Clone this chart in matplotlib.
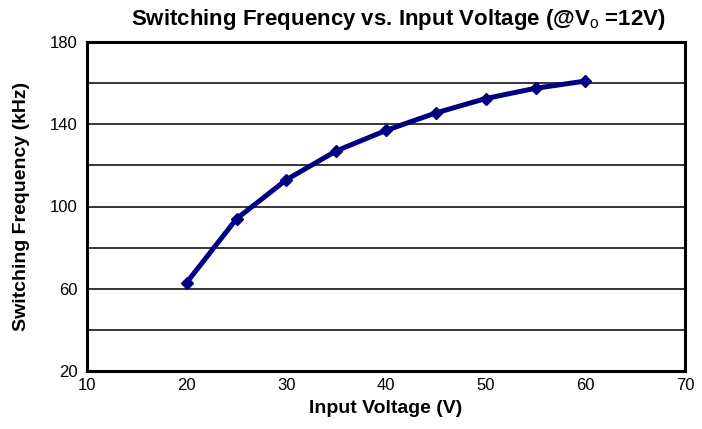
import matplotlib
matplotlib.use("Agg")
import matplotlib.pyplot as plt

# Switching frequency vs input voltage, Vo = 12V
vin = [20, 25, 30, 35, 40, 45, 50, 55, 60]
fsw = [63, 94, 113, 127, 137, 145.5, 152.5, 157.5, 161]
xticks = [10, 20, 30, 40, 50, 60, 70]
yticks = [20, 60, 100, 140, 180]

plt.rcParams['font.family'] = ['Liberation Sans', 'DejaVu Sans']
plt.rcParams['mathtext.fontset'] = 'custom'
plt.rcParams['mathtext.rm'] = 'Liberation Sans'

fig = plt.figure(figsize=(7.02, 4.29), dpi=100)
ax = fig.add_axes([87/702, 1 - 371/429, (685-87)/702, (371-42)/429])

for g in range(40, 180, 20):
    ax.axhline(g, color='black', lw=1.1, zorder=1)

ax.plot(vin, fsw, color='#000080', lw=3.6, marker='D', ms=6, zorder=3,
        solid_joinstyle='round', solid_capstyle='round')

ax.set_xlim(10, 70)
ax.set_ylim(20, 180)
ax.set_xticks(xticks)
ax.set_yticks(yticks)
ax.tick_params(length=0, labelsize=12)
ax.tick_params(axis='x', pad=5)
ax.tick_params(axis='y', pad=7)
for s in ax.spines.values():
    s.set_linewidth(2.2)

ax.set_xlabel('Input Voltage (V)', fontsize=14, fontweight='bold', labelpad=5)
ax.set_ylabel('Switching Frequency (kHz)', fontsize=14, fontweight='bold', labelpad=14)
fig.text(0.567, 0.955, r'Switching Frequency vs. Input Voltage (@V$_\mathrm{o}$ =12V)',
         ha='center', va='center', fontsize=16, fontweight='bold')

fig.savefig('out.png', dpi=100)
